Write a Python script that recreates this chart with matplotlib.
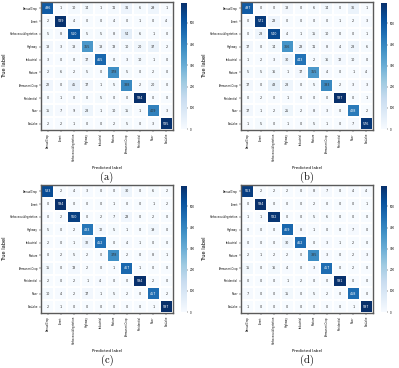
import numpy as np
import matplotlib
matplotlib.use("Agg")
import matplotlib.pyplot as plt

classes = ["AnnualCrop", "Forest", "HerbaceousVegetation", "Highway", "Industrial",
           "Pasture", "PermanentCrop", "Residential", "River", "SeaLake"]

cm_a = [
    [496, 1, 10, 14, 1, 11, 31, 6, 29, 1],
    [2, 589, 4, 0, 0, 4, 0, 1, 0, 4],
    [5, 8, 510, 5, 5, 8, 54, 6, 1, 0],
    [18, 3, 18, 355, 18, 13, 10, 20, 37, 2],
    [3, 0, 0, 17, 465, 0, 3, 10, 1, 0],
    [2, 6, 2, 5, 0, 378, 5, 0, 2, 0],
    [22, 0, 45, 17, 1, 5, 388, 2, 20, 0],
    [0, 1, 0, 0, 5, 0, 0, 594, 0, 0],
    [15, 7, 9, 28, 1, 10, 15, 1, 409, 3],
    [2, 2, 1, 0, 0, 2, 5, 0, 3, 585],
]
cm_b = [
    [497, 0, 0, 18, 0, 6, 14, 0, 36, 1],
    [0, 571, 23, 0, 0, 0, 0, 1, 2, 3],
    [0, 28, 540, 4, 1, 15, 10, 0, 0, 1],
    [17, 0, 14, 366, 23, 11, 8, 4, 28, 6],
    [1, 2, 3, 30, 443, 2, 16, 12, 10, 0],
    [5, 5, 16, 1, 17, 355, 4, 0, 1, 4],
    [17, 0, 48, 28, 0, 5, 393, 2, 3, 3],
    [0, 2, 0, 1, 0, 0, 0, 597, 0, 1],
    [17, 1, 2, 25, 2, 8, 3, 0, 428, 2],
    [1, 5, 0, 1, 0, 5, 1, 0, 7, 576],
]
cm_c = [
    [533, 2, 4, 3, 0, 0, 30, 0, 6, 2],
    [0, 594, 0, 0, 0, 1, 0, 0, 1, 2],
    [0, 2, 560, 0, 2, 7, 23, 0, 2, 0],
    [5, 0, 2, 433, 12, 5, 1, 0, 19, 0],
    [2, 0, 1, 32, 452, 0, 4, 1, 0, 0],
    [0, 2, 5, 2, 0, 378, 2, 0, 8, 1],
    [15, 0, 13, 2, 0, 1, 467, 1, 0, 0],
    [2, 0, 2, 1, 4, 0, 0, 594, 2, 0],
    [10, 4, 2, 17, 1, 5, 2, 0, 457, 2],
    [2, 1, 0, 0, 0, 0, 0, 0, 1, 597],
]
cm_d = [
    [563, 2, 2, 2, 0, 8, 7, 0, 4, 4],
    [0, 594, 0, 0, 0, 2, 0, 0, 0, 1],
    [1, 1, 582, 0, 0, 5, 6, 0, 0, 0],
    [0, 0, 0, 469, 8, 1, 0, 0, 7, 0],
    [0, 0, 0, 30, 462, 0, 3, 1, 2, 0],
    [2, 1, 2, 2, 0, 385, 3, 0, 2, 3],
    [15, 0, 16, 4, 0, 3, 457, 0, 2, 0],
    [0, 0, 0, 1, 2, 0, 0, 591, 0, 0],
    [7, 0, 0, 15, 0, 5, 2, 0, 458, 0],
    [1, 0, 0, 0, 0, 0, 0, 0, 1, 597],
]
panel_labels = ["(a)", "(b)", "(c)", "(d)"]
cbar_ticks = [0, 100, 200, 300, 400, 500]

W, H = 399, 368
fig = plt.figure(figsize=(W / 100, H / 100), dpi=100)

def rect(x, y, w, h):
    return [x / W, 1 - (y + h) / H, w / W, h / H]

origins = [(41, 2), (241, 2), (41, 185), (241, 185)]
cmap = plt.get_cmap("Blues")

for cm, lab, (x0, y0) in zip([cm_a, cm_b, cm_c, cm_d], panel_labels, origins):
    data = np.array(cm)
    vmax = data.max()
    ax = fig.add_axes(rect(x0, y0, 132, 128))
    mesh = ax.pcolormesh(data, cmap=cmap, vmin=0, vmax=vmax,
                         edgecolors="white", linewidth=0.3)
    ax.set_xlim(0, 10)
    ax.set_ylim(10, 0)
    for i in range(10):
        for j in range(10):
            v = data[i, j]
            r, g, b, _ = cmap(v / vmax)
            lum = 0.2126 * r + 0.7152 * g + 0.0722 * b
            col = "white" if lum < 0.45 else "#333333"
            ax.text(j + 0.5, i + 0.5, str(v), ha="center", va="center",
                    fontsize=2.4, color=col)
    ax.set_xticks(np.arange(10) + 0.5)
    ax.set_yticks(np.arange(10) + 0.5)
    ax.set_xticklabels(classes, rotation=90, fontsize=1.8)
    ax.set_yticklabels(classes, fontsize=1.8)
    ax.tick_params(length=1.2, width=0.3, pad=1)
    for s in ax.spines.values():
        s.set_edgecolor("#5a5a5a")
        s.set_linewidth(1.0)
    ax.set_xlabel("Predicted label", fontsize=2.9, labelpad=2)
    ax.set_ylabel("True label", fontsize=3.6, labelpad=3)
    ax.xaxis.set_label_coords(0.5, -(164 - 128) / 128)
    ax.yaxis.set_label_coords(-(34) / 132, 0.5)
    fig.text((x0 + 66) / W, 1 - (y0 + 175) / H, lab, ha="center", va="center",
             fontsize=7.5, family="cmr10")
    cax = fig.add_axes(rect(x0 + 140, y0 + 1, 6, 126))
    cb = fig.colorbar(mesh, cax=cax, ticks=cbar_ticks)
    cb.outline.set_visible(False)
    cax.tick_params(labelsize=2, length=1, width=0.3, pad=1)

fig.savefig("out.png", dpi=100)
